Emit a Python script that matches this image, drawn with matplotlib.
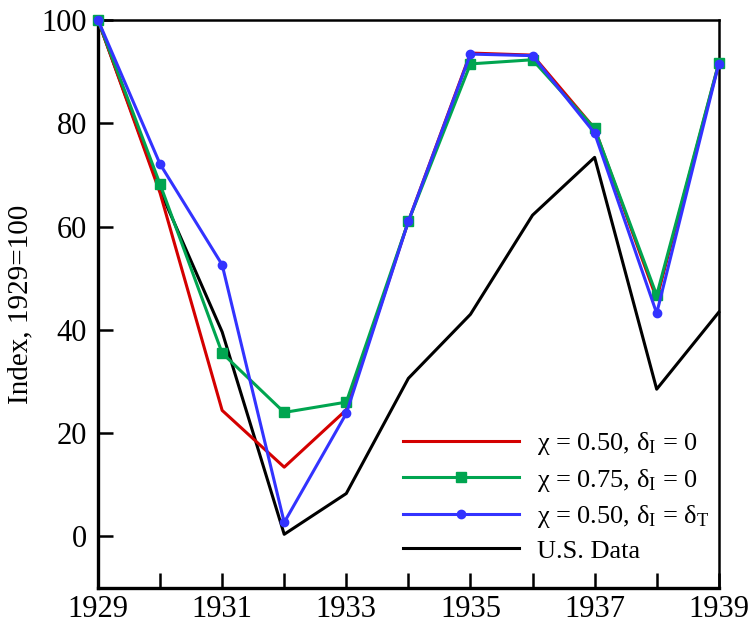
import matplotlib
matplotlib.use("Agg")
import matplotlib.pyplot as plt

years = [1929, 1930, 1931, 1932, 1933, 1934, 1935, 1936, 1937, 1938, 1939]
chi050_d0 = [100, 66.5, 24.4, 13.4, 24.5, 61.0, 93.6, 93.2, 79.0, 46.0, 91.6]
chi075_d0 = [100, 68.2, 35.5, 24.0, 26.0, 61.0, 91.5, 92.3, 79.0, 46.7, 91.7]
chi050_dT = [100, 72.1, 52.6, 2.7, 23.8, 61.0, 93.4, 93.1, 78.1, 43.2, 91.5]
us_data = [100, 67.0, 39.6, 0.4, 8.3, 30.6, 43.0, 62.2, 73.4, 28.5, 43.4]
labels = ["χ = 0.50, δ$_\\mathrm{I}$ = 0",
          "χ = 0.75, δ$_\\mathrm{I}$ = 0",
          "χ = 0.50, δ$_\\mathrm{I}$ = δ$_\\mathrm{T}$",
          "U.S. Data"]
yticks = [0, 20, 40, 60, 80, 100]
xticklabels_years = [1929, 1931, 1933, 1935, 1937, 1939]

plt.rcParams['font.family'] = ['Liberation Serif', 'DejaVu Serif']
plt.rcParams['mathtext.fontset'] = 'custom'
plt.rcParams['mathtext.rm'] = 'Liberation Serif'
plt.rcParams['mathtext.it'] = 'Liberation Serif'

fig = plt.figure(figsize=(7.52, 6.27), dpi=100)
ax = fig.add_axes([0.1303, 0.0622, 0.8255, 0.9059])

lw = 2.2
ax.plot(years, chi050_d0, color='#d40000', lw=lw, label=labels[0], zorder=3, clip_on=False)
ax.plot(years, chi075_d0, color='#00a550', lw=lw, marker='s', ms=7, label=labels[1], zorder=4, clip_on=False)
ax.plot(years, chi050_dT, color='#3333ff', lw=lw, marker='o', ms=6, label=labels[2], zorder=5, clip_on=False)
ax.plot(years, us_data, color='black', lw=lw, label=labels[3], zorder=2, clip_on=False)

ax.set_xlim(1929, 1939)
ax.set_ylim(-10, 100)
ax.set_yticks(yticks)
ax.set_xticks(years)
ax.set_xticklabels([str(y) if y in xticklabels_years else "" for y in years])
ax.tick_params(axis='both', direction='in', length=11, width=1.8, labelsize=22, pad=8)
ax.tick_params(axis='x', pad=5)
ax.tick_params(top=False, right=False)
for s in ['left', 'bottom']:
    ax.spines[s].set_linewidth(2.4)
for s in ['top', 'right']:
    ax.spines[s].set_linewidth(1.8)

ax.set_ylabel("Index, 1929=100", fontsize=21, labelpad=6)

leg = ax.legend(loc='upper left', bbox_to_anchor=(0.474, 0.296), frameon=False,
                fontsize=19, handlelength=4.4, handletextpad=0.7, labelspacing=0.35,
                borderaxespad=0)

fig.savefig("out.png", dpi=100)
